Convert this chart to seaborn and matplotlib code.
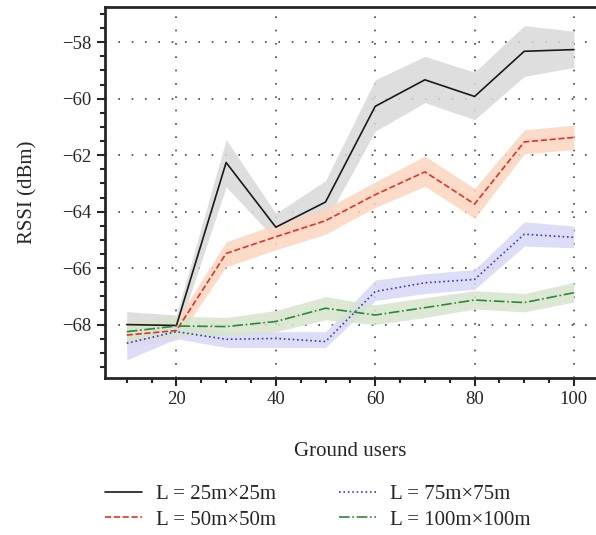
import seaborn as sns
import matplotlib.pyplot as plt
import pandas as pd
from matplotlib.ticker import MultipleLocator

# Ground users on the x axis
users = [10, 20, 30, 40, 50, 60, 70, 80, 90, 100]

# Mean RSSI (dBm) per area size
rssi_25 = [-68.0, -68.03, -62.26, -64.55, -63.66, -60.27, -59.33, -59.92, -58.32, -58.26]
rssi_50 = [-68.37, -68.21, -65.48, -64.89, -64.32, -63.4, -62.59, -63.73, -61.53, -61.37]
rssi_75 = [-68.66, -68.25, -68.52, -68.49, -68.6, -66.83, -66.52, -66.4, -64.8, -64.91]
rssi_100 = [-68.25, -68.05, -68.07, -67.89, -67.42, -67.66, -67.4, -67.13, -67.22, -66.87]

# Band bounds
low_25 = [-68.65, -68.42, -63.12, -65.0, -64.36, -61.15, -60.14, -60.74, -59.21, -58.89]
high_25 = [-67.54, -67.66, -61.45, -64.06, -62.9, -59.33, -58.5, -59.06, -57.41, -57.61]
low_50 = [-68.8, -68.55, -65.95, -65.35, -64.8, -63.85, -63.1, -64.24, -61.95, -61.8]
high_50 = [-67.95, -67.85, -65.07, -64.45, -63.9, -62.95, -62.03, -63.18, -61.1, -60.94]
low_75 = [-69.25, -68.5, -68.81, -68.81, -68.81, -67.15, -66.9, -66.75, -65.22, -65.28]
high_75 = [-68.12, -67.95, -68.25, -68.25, -68.25, -66.42, -66.2, -66.05, -64.36, -64.51]
low_100 = [-68.6, -68.4, -68.4, -68.25, -67.83, -68.0, -67.75, -67.45, -67.55, -67.2]
high_100 = [-67.9, -67.7, -67.75, -67.5, -67.01, -67.3, -67.05, -66.8, -66.9, -66.5]

labels = ['L = 25m×25m', 'L = 50m×50m', 'L = 75m×75m', 'L = 100m×100m']
line_colors = ['#1a1a1a', '#e0332b', '#3a3ad0', '#2a8a35']
fill_colors = ['#d9d9d9', '#fdd5c0', '#d9d8f7', '#d6e5cc']
styles = ['-', '--', ':', '-.']

sns.set_style('ticks')
plt.rcParams['font.family'] = ['Liberation Serif', 'DejaVu Serif']
plt.rcParams['axes.unicode_minus'] = True

fig = plt.figure(figsize=(5.96, 5.35), dpi=100)
ax = fig.add_axes([0.176, 0.293, 0.822, 0.694])

means = [rssi_25, rssi_50, rssi_75, rssi_100]
lows = [low_25, low_50, low_75, low_100]
highs = [high_25, high_50, high_75, high_100]

# Bands first, then lines on top
for lo, hi, fc in zip(lows, highs, fill_colors):
    ax.fill_between(users, lo, hi, color=fc, alpha=0.85, lw=0)

for y, lab, c, ls in zip(means, labels, line_colors, styles):
    df = pd.DataFrame({'users': users, 'rssi': y})
    sns.lineplot(data=df, x='users', y='rssi', ax=ax, color=c, linestyle=ls,
                 lw=1.2, label=lab, errorbar=None)

ax.set_xlim(5.6, 104.2)
ax.set_ylim(-69.9, -56.75)
ax.xaxis.set_major_locator(MultipleLocator(20))
ax.xaxis.set_minor_locator(MultipleLocator(5))
ax.yaxis.set_major_locator(MultipleLocator(2))
ax.yaxis.set_minor_locator(MultipleLocator(0.5))

ax.grid(True, which='major', color='#444444', linestyle=(0, (1, 7)), lw=1.2)
for s in ['left', 'top', 'bottom']:
    ax.spines[s].set_linewidth(2)
ax.spines['right'].set_visible(False)
ax.tick_params(which='major', direction='out', length=6, width=1.5, labelsize=13.5)
ax.tick_params(which='minor', direction='out', length=3.5, width=1.5)

ax.set_xlabel('Ground users', fontsize=15, labelpad=24)
ax.set_ylabel('RSSI (dBm)', fontsize=15, labelpad=18)

ax.legend(loc='upper center', bbox_to_anchor=(0.434, -0.235), ncol=2, frameon=False,
          fontsize=15, handlelength=1.8, handletextpad=0.65, columnspacing=3.0,
          labelspacing=0.3)

plt.savefig('out.png', dpi=100)
